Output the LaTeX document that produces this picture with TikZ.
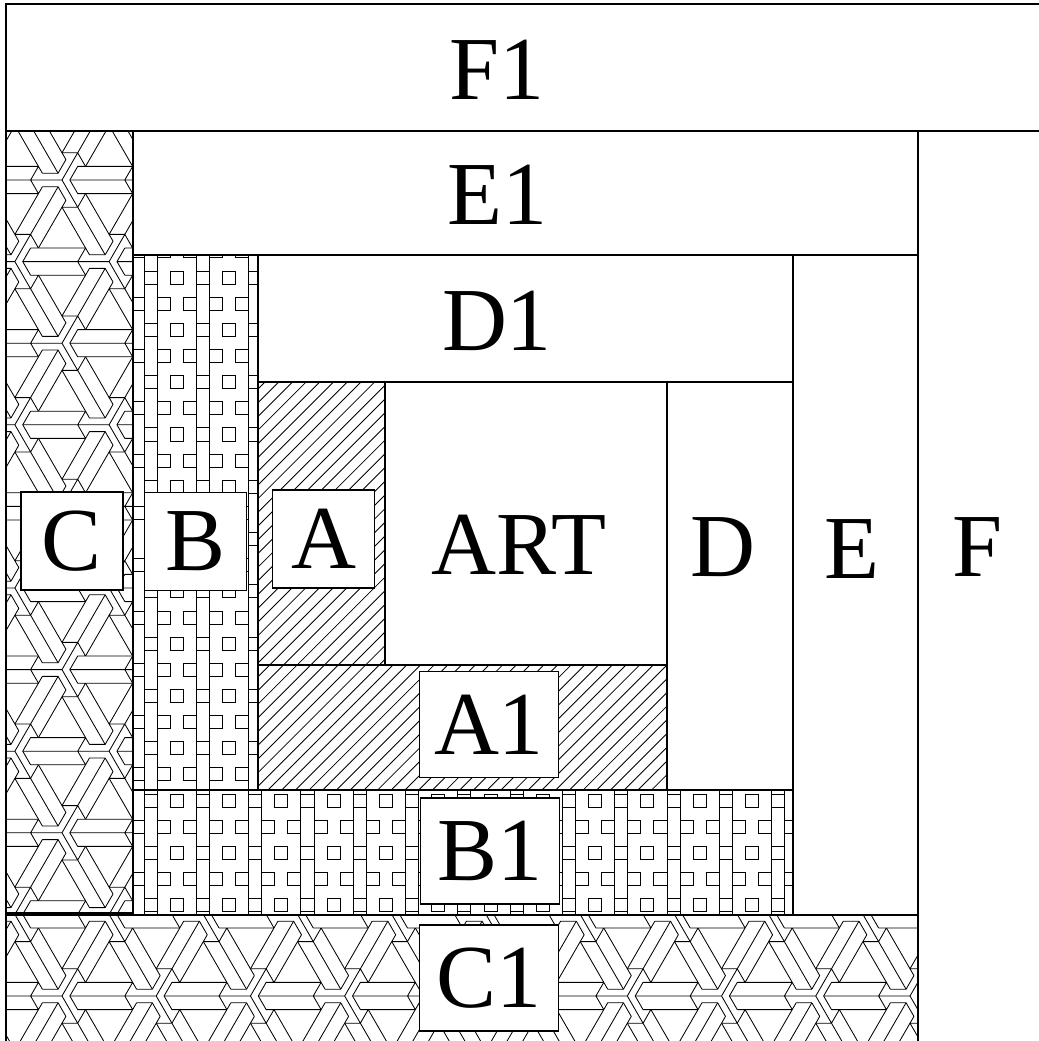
\documentclass[tikz,border=0pt]{standalone}
\usepackage{fontspec}
\setmainfont{Liberation Serif}
\tikzset{
  wall/.style={line width=1.2pt},
  hatchline/.style={line width=0.6pt},
  tagtext/.style={inner sep=0pt, font=\fontsize{64}{64}\selectfont},
  tagbox/.style={tagtext, draw, fill=white, line width=0.8pt},
  smallbox/.style={tagbox, minimum width=2.55cm, minimum height=2.45cm},
  widebox/.style={tagbox, minimum width=3.47cm, minimum height=2.65cm},
}
% one lattice cell of the woven triangle hatch (hatch units, y up)
\newcommand{\weavecell}[2]{%
  \draw[hatchline, shift={({#1},{#2})}]
    (0,0) -- ++(60:1.1) (0,0) -- ++(180:1.1) (0,0) -- ++(300:1.1)
    (.1,0) -- ++(60:.2) (.1,0) -- ++(300:.2)
    (-.05,.0866) -- ++(60:.2) (-.05,.0866) -- ++(180:.2)
    (-.05,-.0866) -- ++(300:.2) (-.05,-.0866) -- ++(180:.2)
    (-.4,0) -- ++(60:.2) (-.4,0) -- ++(300:.2)
    (.2,-.3464) -- ++(60:.2) (.2,-.3464) -- ++(180:.2)
    (.2,.3464) -- ++(300:.2) (.2,.3464) -- ++(180:.2)
    (.2,.1732) -- ++(0:.7) (.2,-.1732) -- ++(0:.7)
    (.05,.2598) -- ++(120:.7) (-.25,.0866) -- ++(120:.7)
    (.05,-.2598) -- ++(240:.7) (-.25,-.0866) -- ++(240:.7);}
% one cell of the ladder and box hatch (pixels, y down)
\newcommand{\brickcell}[2]{%
  \draw[hatchline, shift={({#1},{#2})}]
    (0,0) -- (0,52.3) (13.1,0) -- (13.1,52.3)
    (0,0) -- (13.1,0) (0,13.1) -- (13.1,13.1)
    (26.2,0) rectangle (39.2,13.1)
    (13.1,26.2) rectangle (26.2,39.2)
    (39.2,26.2) rectangle (52.3,39.2);}

\begin{document}
\begin{tikzpicture}[x=0.025cm, y=-0.025cm]
  \useasboundingbox (0,0) rectangle (1039,1041);

  % C and C1: woven triangles
  \begin{scope}
    \clip (6,131) -- (133,131) -- (133,915) -- (918,915) -- (918,1041) -- (6,1041) -- cycle;
    \begin{scope}[shift={(62,180)}, x=1.9625cm, y=1.9625cm]
      \foreach \j in {-12,...,2}
        \foreach \i in {-3,...,16}
          {\weavecell{1.2*\i+0.6*\j}{1.0392*\j}}
    \end{scope}
  \end{scope}

  % B and B1: ladders and boxes
  \begin{scope}
    \clip (133,255) -- (258,255) -- (258,790) -- (793,790) -- (793,915) -- (133,915) -- cycle;
    \foreach \j in {-1,...,12}
      \foreach \i in {-1,...,12}
        {\brickcell{144+52.3*\i}{271+52.3*\j}}
  \end{scope}

  % A and A1: plain 45 degree hatch
  \begin{scope}
    \clip (258,382) -- (385,382) -- (385,665) -- (667,665) -- (667,790) -- (258,790) -- cycle;
    \foreach \c in {633.3,647,...,1460}
      \draw[hatchline] ({\c-800},800) -- ({\c-370},370);
  \end{scope}

  % frame and strips
  \draw[wall] (1039,4) -- (6,4) -- (6,1041);
  \draw[wall] (6,131) -- (1039,131);
  \draw[wall] (918,131) -- (918,1041);
  \draw[wall] (133,131) -- (133,915);
  \draw[wall] (133,255) -- (918,255);
  \draw[wall] (6,915) -- (918,915);
  \draw[wall] (6,913) -- (133,913);
  \draw[wall] (793,255) -- (793,915);
  \draw[wall] (258,255) -- (258,790);
  \draw[wall] (258,382) -- (793,382);
  \draw[wall] (133,790) -- (793,790);
  \draw[wall] (667,382) -- (667,790);
  \draw[wall] (385,382) -- (385,665);
  \draw[wall] (258,665) -- (667,665);

  % labels
  \node[tagtext] (f1) at (497,70) {F1};
  \node[tagtext] (e1) at (497,195) {E1};
  \node[tagtext] (d1) at (497,321) {D1};
  \node[smallbox] (c) at (72,541) {C};
  \node[smallbox] (b) at (195.5,541.5) {B};
  \node[smallbox] (a) at (323.5,539) {A};
  \node[tagtext] (art) at (519,545) {ART};
  \node[tagtext] (d) at (723,547) {D};
  \node[tagtext] (e) at (852,549) {E};
  \node[tagtext] (f) at (978,547) {F};
  \node[widebox] (a1) at (489,724.5) {A1};
  \node[widebox] (b1) at (490,851) {B1};
  \node[widebox] (c1) at (489,978) {C1};
\end{tikzpicture}
\end{document}
